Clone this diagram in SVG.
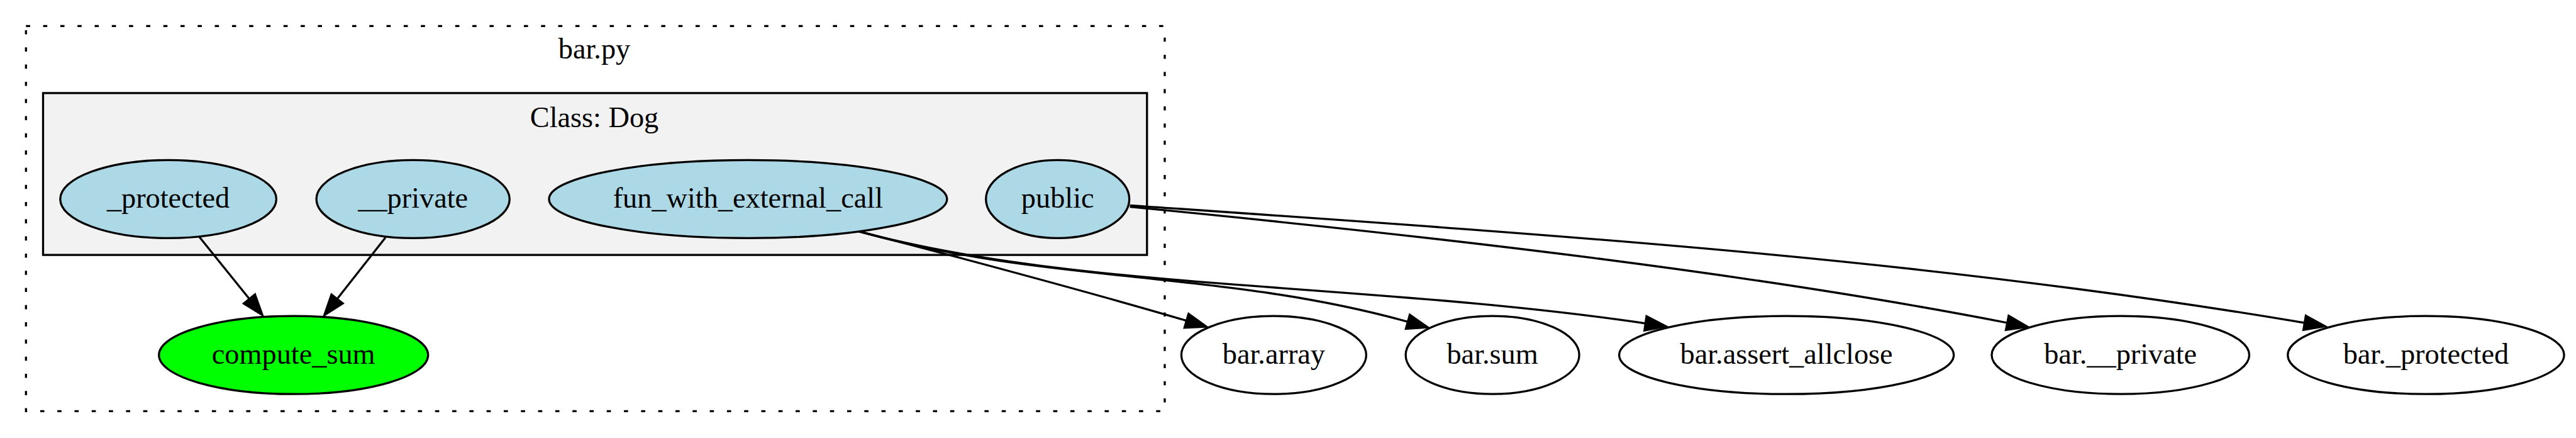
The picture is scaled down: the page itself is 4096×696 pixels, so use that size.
<svg xmlns="http://www.w3.org/2000/svg" width="4096" height="696" viewBox="0 0 4096 696">
<defs>
<style>
text{font-family:"Liberation Serif","Times New Roman",serif;font-size:46.3px;text-anchor:middle;fill:#000}
.n ellipse{stroke:#000;stroke-width:3.3}
.m ellipse{fill:#add8e6}
.o ellipse{fill:#fff}
.e path{fill:none;stroke:#000;stroke-width:3.3;marker-end:url(#arr)}
</style>
<marker id="arr" markerUnits="userSpaceOnUse" orient="auto" overflow="visible" markerWidth="40" markerHeight="30" refX="0" refY="0">
<path d="M0,-11.5 L33,0 L0,11.5 Z" fill="#000" stroke="#000" stroke-width="3.3"/>
</marker>
</defs>
<rect width="4096" height="696" fill="#fff"/>
<g id="cluster_bar_py">
<rect x="41.3" y="41.3" width="1810.7" height="612" fill="none" stroke="#000" stroke-width="3.3" stroke-dasharray="6.6,20.7"/>
<text x="945" y="93.3">bar.py</text>
</g>
<g id="cluster_Dog">
<rect x="68.5" y="147.9" width="1755.3" height="257.2" fill="#f2f2f2" stroke="#000" stroke-width="3.3"/>
<text x="945" y="201.5">Class: Dog</text>
</g>
<g id="n_protected" class="n m"><ellipse cx="267.6" cy="316.4" rx="171.8" ry="62"/><text x="267.6" y="330.4">_protected</text></g>
<g id="n_private" class="n m"><ellipse cx="656.7" cy="316.4" rx="153.6" ry="62"/><text x="656.7" y="330.4">__private</text></g>
<g id="n_fun_with_external_call" class="n m"><ellipse cx="1189.4" cy="316.4" rx="316.4" ry="62"/><text x="1189.4" y="330.4">fun_with_external_call</text></g>
<g id="n_public" class="n m"><ellipse cx="1681.7" cy="316.4" rx="114" ry="62"/><text x="1681.7" y="330.4">public</text></g>
<g id="n_compute_sum" class="n"><ellipse cx="466.7" cy="564.2" rx="214" ry="62" fill="#00ff00"/><text x="466.7" y="578.2">compute_sum</text></g>
<g id="n_bar_array" class="n o"><ellipse cx="2025.4" cy="564.2" rx="147" ry="62"/><text x="2025.4" y="578.2">bar.array</text></g>
<g id="n_bar_sum" class="n o"><ellipse cx="2373.1" cy="564.2" rx="138" ry="62"/><text x="2373.1" y="578.2">bar.sum</text></g>
<g id="n_bar_assert_allclose" class="n o"><ellipse cx="2840.6" cy="564.2" rx="266" ry="62"/><text x="2840.6" y="578.2">bar.assert_allclose</text></g>
<g id="n_bar_private" class="n o"><ellipse cx="3371.7" cy="564.2" rx="204.8" ry="62"/><text x="3371.7" y="578.2">bar.__private</text></g>
<g id="n_bar_protected" class="n o"><ellipse cx="3857.4" cy="564.2" rx="219.7" ry="62"/><text x="3857.4" y="578.2">bar._protected</text></g>
<g id="edges" class="e">
<path d="M316.4,375.8 L396.5,475"/>
<path d="M612.9,377.5 L536.1,475"/>
<path d="M1365.4,367.6 C1550,415 1780,478 1886.6,509.6"/>
<path d="M1365.4,367.6 C1665.4,452 1938.5,428 2238.5,511.3"/>
<path d="M1365.4,367.6 C1715.4,462 2166.4,448 2616.4,513.8"/>
<path d="M1796.6,328.7 C2296.6,377 2791.7,435 3191.7,513"/>
<path d="M1796.6,326.3 C2496.6,375 3064.5,412 3664.5,513"/>
</g>
</svg>
